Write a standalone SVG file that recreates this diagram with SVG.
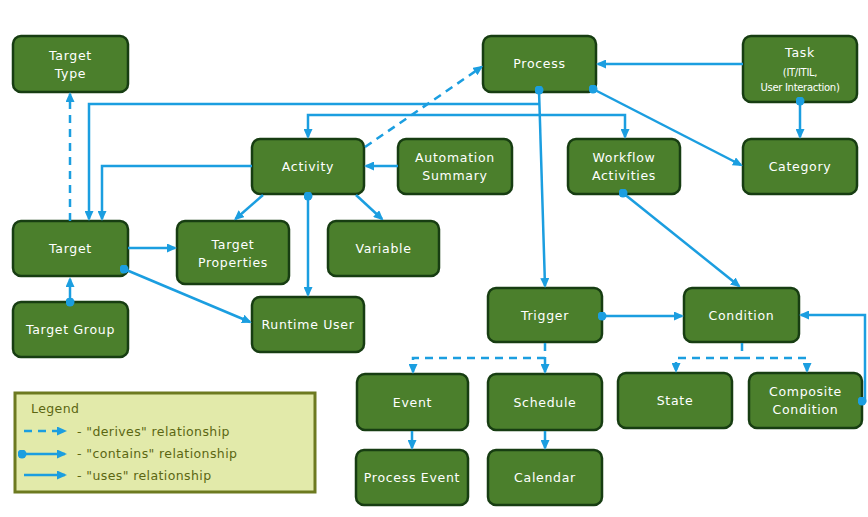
<svg xmlns="http://www.w3.org/2000/svg" width="868" height="517" viewBox="0 0 868 517">
<style>
.node rect{fill:#4b7f2c;stroke:#173d12;stroke-width:2.5}
.node text{fill:#ffffff;font-family:"DejaVu Sans",Verdana,sans-serif;font-size:12.5px;letter-spacing:0.7px;text-anchor:middle}
.node text.small{font-size:10px;letter-spacing:-0.3px}
.conn path{fill:none;stroke:#1b9ee0;stroke-width:2.5}
.conn path.d{stroke-dasharray:8 6}
.leg text{fill:#5b6612;font-family:"DejaVu Sans",Verdana,sans-serif;font-size:12.5px;letter-spacing:0.4px}
</style>
<defs>
<marker id="arr" viewBox="0 0 10 10" refX="8" refY="5" markerWidth="10" markerHeight="9" markerUnits="userSpaceOnUse" orient="auto" preserveAspectRatio="none"><path d="M0,0 L10,5 L0,10 z" fill="#1b9ee0"/></marker>
<marker id="dot" viewBox="0 0 10 10" refX="5" refY="5" markerWidth="9" markerHeight="9" markerUnits="userSpaceOnUse"><circle cx="5" cy="5" r="5" fill="#1b9ee0"/></marker>
</defs>
<rect width="868" height="517" fill="#ffffff"/>

<g class="node" id="target-type"><rect x="13" y="36" width="115" height="56" rx="8"/><text x="70.5" y="60">Target</text><text x="70.5" y="78">Type</text></g>
<g class="node" id="target"><rect x="13" y="221" width="115" height="55" rx="8"/><text x="70.5" y="253">Target</text></g>
<g class="node" id="target-group"><rect x="13" y="302" width="115" height="55" rx="8"/><text x="70.5" y="334">Target Group</text></g>
<g class="node" id="activity"><rect x="252" y="139" width="112" height="55" rx="8"/><text x="308" y="171">Activity</text></g>
<g class="node" id="automation-summary"><rect x="398" y="139" width="114" height="55" rx="8"/><text x="455" y="162">Automation</text><text x="455" y="180">Summary</text></g>
<g class="node" id="target-properties"><rect x="177" y="221" width="112" height="63" rx="8"/><text x="233" y="249">Target</text><text x="233" y="267">Properties</text></g>
<g class="node" id="variable"><rect x="328" y="221" width="111" height="55" rx="8"/><text x="383.5" y="253">Variable</text></g>
<g class="node" id="runtime-user"><rect x="252" y="297" width="112" height="55" rx="8"/><text x="308" y="329">Runtime User</text></g>
<g class="node" id="process"><rect x="483" y="36" width="113" height="56" rx="8"/><text x="539.5" y="68">Process</text></g>
<g class="node" id="task"><rect x="743" y="36" width="114" height="66" rx="8"/><text x="800" y="57">Task</text><text class="small" x="800" y="76">(IT/ITIL,</text><text class="small" x="800" y="91">User Interaction)</text></g>
<g class="node" id="workflow-activities"><rect x="568" y="139" width="112" height="55" rx="8"/><text x="624" y="162">Workflow</text><text x="624" y="180">Activities</text></g>
<g class="node" id="category"><rect x="743" y="139" width="114" height="55" rx="8"/><text x="800" y="171">Category</text></g>
<g class="node" id="trigger"><rect x="488" y="288" width="114" height="54" rx="8"/><text x="545" y="320">Trigger</text></g>
<g class="node" id="condition"><rect x="684" y="288" width="115" height="54" rx="8"/><text x="741.5" y="320">Condition</text></g>
<g class="node" id="event"><rect x="357" y="374" width="111" height="56" rx="8"/><text x="412.5" y="407">Event</text></g>
<g class="node" id="schedule"><rect x="488" y="374" width="114" height="56" rx="8"/><text x="545" y="407">Schedule</text></g>
<g class="node" id="state"><rect x="618" y="373" width="114" height="55" rx="8"/><text x="675" y="405">State</text></g>
<g class="node" id="composite-condition"><rect x="749" y="373" width="113" height="55" rx="8"/><text x="805.5" y="396">Composite</text><text x="805.5" y="414">Condition</text></g>
<g class="node" id="process-event"><rect x="356" y="450" width="112" height="55" rx="8"/><text x="412" y="482">Process Event</text></g>
<g class="node" id="calendar"><rect x="488" y="450" width="114" height="55" rx="8"/><text x="545" y="482">Calendar</text></g>

<g class="conn" id="connectors">
<path class="d" d="M70,221 V94" marker-end="url(#arr)"/>
<path d="M539,90 L545,286" marker-start="url(#dot)" marker-end="url(#arr)"/>
<path d="M539.4,104 H89 V219" marker-end="url(#arr)"/>
<path d="M539.8,115 H308 V137" marker-end="url(#arr)"/>
<path d="M539.8,115 H625 V137" marker-end="url(#arr)"/>
<path class="d" d="M365,147 L481.5,67" marker-end="url(#arr)"/>
<path d="M743,64 H598" marker-end="url(#arr)"/>
<path d="M800,101 V137" marker-start="url(#dot)" marker-end="url(#arr)"/>
<path d="M593,89 L741,165" marker-start="url(#dot)" marker-end="url(#arr)"/>
<path d="M252,166 H102 V219" marker-end="url(#arr)"/>
<path d="M398,166 H366" marker-end="url(#arr)"/>
<path d="M263,195 L235.5,219" marker-end="url(#arr)"/>
<path d="M356,195 L382,219" marker-end="url(#arr)"/>
<path d="M308,196 V295" marker-start="url(#dot)" marker-end="url(#arr)"/>
<path d="M128,248 H175" marker-end="url(#arr)"/>
<path d="M124,269 L250,322" marker-start="url(#dot)" marker-end="url(#arr)"/>
<path d="M70,302 V279" marker-start="url(#dot)" marker-end="url(#arr)"/>
<path d="M623,193 L739,286" marker-start="url(#dot)" marker-end="url(#arr)"/>
<path d="M602,316 H682" marker-start="url(#dot)" marker-end="url(#arr)"/>
<path class="d" d="M545,343 V372" marker-end="url(#arr)"/>
<path class="d" d="M545,358 H413 V372" marker-end="url(#arr)"/>
<path class="d" d="M742,343 V358"/>
<path class="d" d="M742,358 H676 V371" marker-end="url(#arr)"/>
<path class="d" d="M742,358 H807 V371" marker-end="url(#arr)"/>
<path d="M862,401 H865 V315 H801" marker-start="url(#dot)" marker-end="url(#arr)"/>
<path d="M412,431 V448" marker-end="url(#arr)"/>
<path d="M545,431 V448" marker-end="url(#arr)"/>
</g>

<g class="leg" id="legend">
<rect x="15" y="393" width="300" height="99" fill="#e2eaaa" stroke="#6d7a20" stroke-width="3"/>
<text x="31" y="413">Legend</text>
<g class="conn">
<path class="d" d="M24,431 H65" marker-end="url(#arr)"/>
<path d="M22,454 H65" marker-start="url(#dot)" marker-end="url(#arr)"/>
<path d="M24,475 H65" marker-end="url(#arr)"/>
</g>
<text x="77" y="436">- "derives" relationship</text>
<text x="77" y="458">- "contains" relationship</text>
<text x="77" y="480">- "uses" relationship</text>
</g>
</svg>
